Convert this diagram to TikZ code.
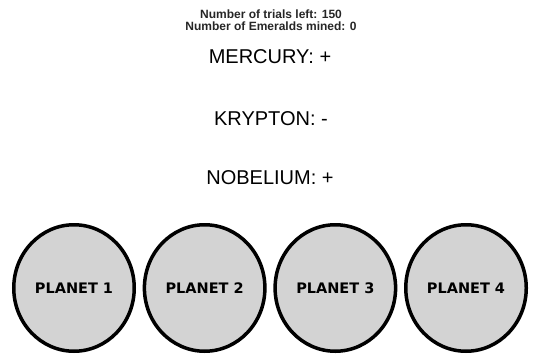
\documentclass[tikz,border=0pt]{standalone}
\usepackage{fontspec}
\setmainfont{Liberation Sans}
\newfontfamily\planetfont{DejaVu Sans}
\usetikzlibrary{positioning, shapes.geometric}
\definecolor{planetgray}{HTML}{D3D3D3}

\begin{document}
\begin{tikzpicture}[x=1pt, y=-1pt, node distance=130.67pt]
% 定义节点样式
\tikzstyle{planet} = [ellipse, draw, line width=3.5pt, fill=planetgray, minimum width=120.5pt, minimum height=126.5pt, inner sep=0pt, font=\planetfont\bfseries\fontsize{14.5}{16}\selectfont]
\tikzstyle{info} = [anchor=base, inner sep=0pt, text=black!85, font=\bfseries\fontsize{12}{14}\selectfont]
\tikzstyle{element} = [anchor=base, inner sep=0pt, font=\fontsize{20}{24}\selectfont]

\useasboundingbox (0,0) rectangle (533,356);

% 顶部信息
\node [info] (trials) at (271,18) {Number of trials left: 150};
\node [info] (mined) at (271,30) {Number of Emeralds mined: 0};

% 元素提示
\node [element] (mercury) at (270,63) {MERCURY: +};
\node [element] (krypton) at (271,125) {KRYPTON: -};
\node [element] (nobelium) at (270,184) {NOBELIUM: +};

% 绘制行星
\node [planet] (planet1) at (74,288) {PLANET 1};
\node [planet, right of=planet1] (planet2) {PLANET 2};
\node [planet, right of=planet2] (planet3) {PLANET 3};
\node [planet, right of=planet3] (planet4) {PLANET 4};
\end{tikzpicture}
\end{document}
